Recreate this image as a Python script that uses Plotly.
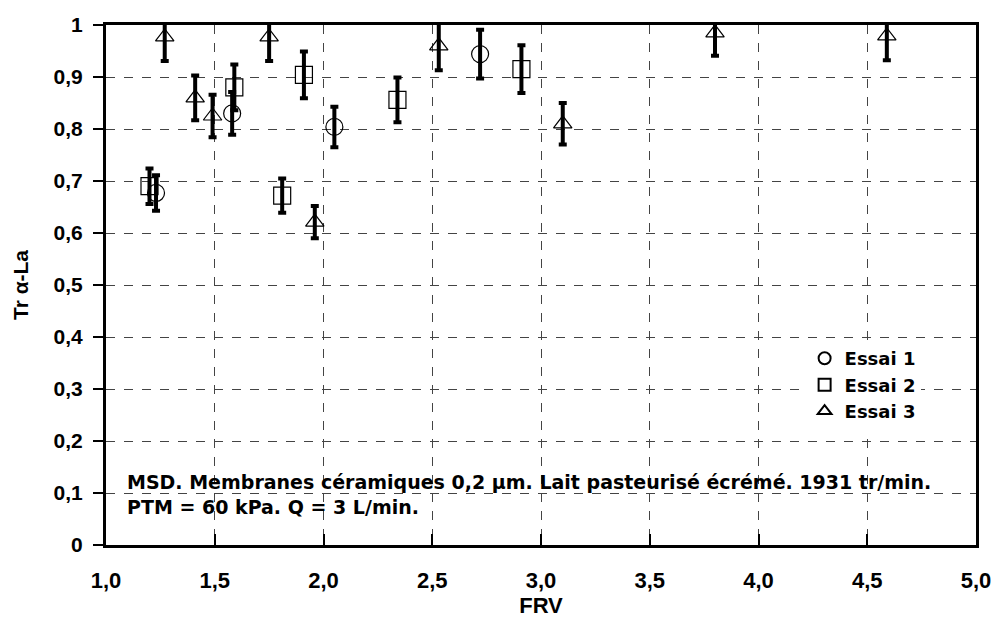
import plotly.graph_objects as go

# Essai 1
frv_1 = [1.23, 1.58, 2.05, 2.72]
tr_1 = [0.677, 0.830, 0.804, 0.944]
err_1 = [0.034, 0.041, 0.039, 0.047]

# Essai 2
frv_2 = [1.20, 1.59, 1.81, 1.91, 2.34, 2.91]
tr_2 = [0.690, 0.880, 0.672, 0.904, 0.856, 0.915]
err_2 = [0.034, 0.044, 0.033, 0.045, 0.043, 0.046]

# Essai 3
frv_3 = [1.27, 1.41, 1.49, 1.75, 1.96, 2.53, 3.10, 3.80, 4.59]
tr_3 = [0.977, 0.860, 0.825, 0.977, 0.621, 0.960, 0.810, 0.985, 0.979]
err_3 = [0.046, 0.043, 0.041, 0.046, 0.031, 0.047, 0.040, 0.044, 0.047]

x_ticks = [1.0, 1.5, 2.0, 2.5, 3.0, 3.5, 4.0, 4.5, 5.0]
x_labels = ["1,0", "1,5", "2,0", "2,5", "3,0", "3,5", "4,0", "4,5", "5,0"]
y_ticks = [0, 0.1, 0.2, 0.3, 0.4, 0.5, 0.6, 0.7, 0.8, 0.9, 1.0]
y_labels = ["0", "0,1", "0,2", "0,3", "0,4", "0,5", "0,6", "0,7", "0,8", "0,9", "1"]

note = ("MSD. Membranes céramiques 0,2 µm. Lait pasteurisé écrémé. 1931 tr/min.<br>"
        "PTM = 60 kPa. Q = 3 L/min.")

AXFONT = "Liberation Sans"
TXFONT = "DejaVu Sans"

fig = go.Figure()

series = [
    ("Essai 1", frv_1, tr_1, err_1, "circle-open", 17),
    ("Essai 2", frv_2, tr_2, err_2, "square-open", 17),
    ("Essai 3", frv_3, tr_3, err_3, "triangle-up-open", 16),
]
for name, xs, ys, es, sym, size in series:
    fig.add_trace(
        go.Scatter(
            x=xs,
            y=ys,
            mode="markers",
            name=name,
            cliponaxis=False,
            marker=dict(symbol=sym, size=size, color="black", line=dict(width=1.2)),
            error_y=dict(type="data", array=es, visible=True, color="black",
                         thickness=4, width=4),
        )
    )

fig.add_annotation(
    text=note, xref="paper", yref="paper", x=0.022, y=0.146,
    xanchor="left", yanchor="top", align="left", showarrow=False,
    font=dict(family=TXFONT, size=19, color="black", weight="bold"),
)

axis_common = dict(
    showline=True, linecolor="black", linewidth=3, mirror=True,
    showgrid=True, gridcolor="#444", gridwidth=1, griddash="dash",
    zeroline=False, tickcolor="black", tickwidth=2, automargin=False,
)

fig.update_xaxes(
    range=[1, 5], tickvals=x_ticks, ticktext=x_labels,
    ticks="inside", ticklen=11, ticklabelstandoff=14,
    tickfont=dict(family=AXFONT, size=22, color="black", weight="bold"),
    title=dict(text="FRV", standoff=0,
               font=dict(family=AXFONT, size=22, color="black", weight="bold")),
    **axis_common,
)
fig.update_yaxes(
    range=[0, 1], tickvals=y_ticks, ticktext=y_labels,
    ticks="outside", ticklen=10, ticklabelstandoff=6,
    tickfont=dict(family=AXFONT, size=21, color="black", weight="bold"),
    title=dict(text="Tr α-La", standoff=20,
               font=dict(family=AXFONT, size=21, color="black", weight="bold")),
    **axis_common,
)

fig.update_layout(
    width=999, height=619,
    plot_bgcolor="white", paper_bgcolor="white",
    margin=dict(l=106, r=23, t=25, b=74),
    showlegend=True,
    legend=dict(
        x=0.803, y=0.394, xanchor="left", yanchor="top",
        bgcolor="white", borderwidth=0, itemsizing="constant",
        font=dict(family=TXFONT, size=18, color="black", weight="bold"),
        tracegroupgap=0, itemwidth=30,
    ),
)

fig.write_html("out.html", config={"displayModeBar": False},
               post_script="document.body.style.margin='0';")
